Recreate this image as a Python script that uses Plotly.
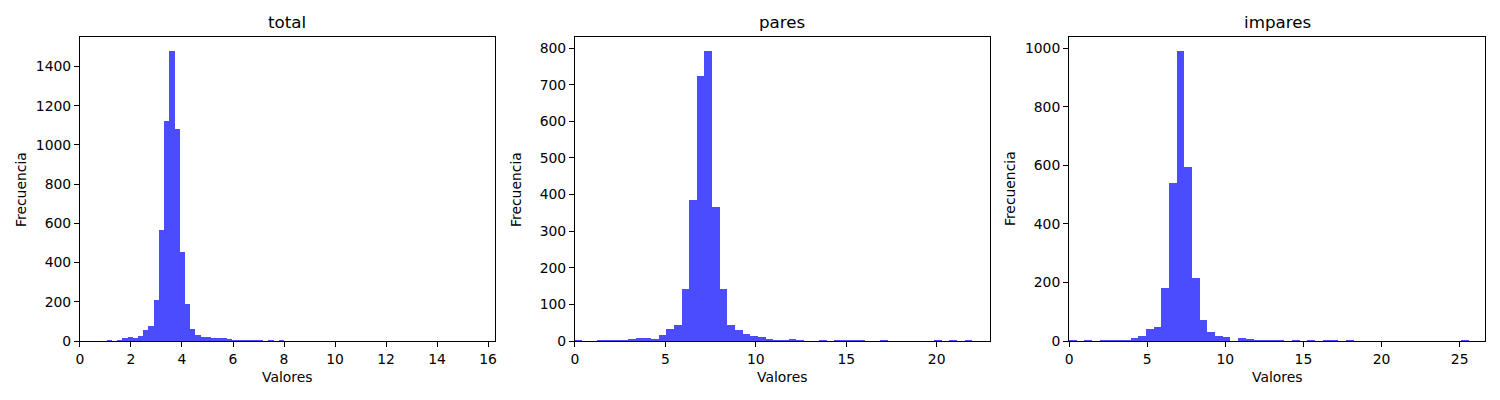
import plotly.graph_objects as go
from plotly.subplots import make_subplots

# bin layout (left edge of first bin, bin width)
total_start, total_width = 1.05, 0.2043
pares_start, pares_width = -0.03, 0.4229
impares_start, impares_width = 0.0, 0.4921

total_counts = [
    4, 0, 7, 17, 22, 17, 27, 58, 78, 211,
    567, 1124, 1477, 1083, 455, 189, 62, 29, 22, 21,
    17, 17, 16, 11, 4, 4, 4, 4, 4, 4,
    0, 3, 0, 3, 0, 0, 0, 0, 0, 0,
    0, 0, 0, 0, 0, 0, 0, 0, 0, 0,
    0, 0, 0, 0, 0, 0, 0, 0, 0, 0,
    0, 0, 0, 0, 0, 0, 0, 0, 0, 0,
    1,
]
pares_counts = [
    3, 0, 0, 2, 2, 2, 2, 5, 7, 7,
    5, 16, 32, 45, 141, 384, 723, 791, 365, 141,
    45, 29, 18, 13, 10, 5, 3, 3, 5, 3,
    0, 0, 2, 0, 2, 2, 2, 2, 0, 0,
    2, 0, 0, 0, 0, 0, 0, 2, 0, 2,
    0, 2,
]
impares_counts = [
    3, 0, 3, 0, 3, 3, 3, 3, 9, 16,
    40, 47, 180, 541, 989, 596, 214, 71, 30, 16,
    13, 1, 9, 6, 2, 2, 2, 2, 0, 2,
    0, 2, 0, 2, 2, 0, 2, 0, 0, 0,
    0, 0, 0, 0, 0, 0, 0, 0, 0, 0,
    0, 2,
]

titles = ["total", "pares", "impares"]
x_ranges = [[0, 16.27], [0, 22.95], [0, 26.62]]
x_dtick = [2, 5, 5]
y_dtick = [200, 100, 200]

panels = [
    (total_start, total_width, total_counts),
    (pares_start, pares_width, pares_counts),
    (impares_start, impares_width, impares_counts),
]

x_domains = [[0.0533, 0.33], [0.3833, 0.66], [0.7127, 0.99]]
y_domain = [0.1475, 0.9075]

FONT = "DejaVu Sans"
BAR_COLOR = "rgba(0,0,255,0.7)"

fig = make_subplots(rows=1, cols=3)

for i, (start, width, counts) in enumerate(panels):
    centers = [start + width * (k + 0.5) for k in range(len(counts))]
    fig.add_trace(
        go.Bar(
            x=centers,
            y=counts,
            width=width,
            marker=dict(color=BAR_COLOR, line=dict(width=0)),
            showlegend=False,
            hoverinfo="x+y",
        ),
        row=1,
        col=i + 1,
    )

    axis_common = dict(
        showline=True,
        mirror=True,
        linecolor="black",
        linewidth=1,
        ticks="outside",
        ticklen=5,
        tickwidth=1,
        tickcolor="black",
        showgrid=False,
        zeroline=False,
        automargin=False,
        tickfont=dict(family=FONT, size=13.9, color="black"),
    )
    fig.update_xaxes(
        range=x_ranges[i],
        dtick=x_dtick[i],
        tick0=0,
        domain=x_domains[i],
        **axis_common,
        row=1,
        col=i + 1,
    )
    fig.update_yaxes(
        range=[0, max(counts) * 1.05],
        dtick=y_dtick[i],
        tick0=0,
        domain=y_domain,
        **axis_common,
        row=1,
        col=i + 1,
    )

    mid = (x_domains[i][0] + x_domains[i][1]) / 2
    fig.add_annotation(
        text=titles[i], x=mid, y=1 - 22 / 400, xref="paper", yref="paper",
        showarrow=False, xanchor="center", yanchor="middle",
        font=dict(family=FONT, size=16.7, color="black"),
    )
    fig.add_annotation(
        text="Valores", x=mid, y=1 - 377 / 400, xref="paper", yref="paper",
        showarrow=False, xanchor="center", yanchor="middle",
        font=dict(family=FONT, size=13.9, color="black"),
    )
    fig.add_annotation(
        text="Frecuencia", x=x_domains[i][0] - 59 / 1500, y=1 - 189 / 400,
        xref="paper", yref="paper", textangle=-90,
        showarrow=False, xanchor="center", yanchor="middle",
        font=dict(family=FONT, size=13.9, color="black"),
    )

fig.update_layout(
    width=1500,
    height=400,
    margin=dict(l=0, r=0, t=0, b=0),
    paper_bgcolor="white",
    plot_bgcolor="white",
    bargap=0,
    font=dict(family=FONT, color="black"),
)

# the default page keeps the browser's 8px body margin; drop it so the
# figure sits flush in the 1500x400 window
fig.write_html(
    "out.html",
    config={"displayModeBar": False},
    post_script="document.body.style.margin = '0';",
)
